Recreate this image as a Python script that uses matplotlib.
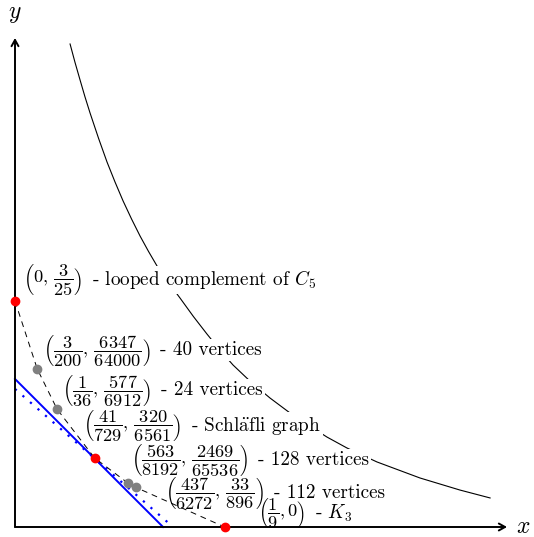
import matplotlib
matplotlib.use('Agg')
import matplotlib.pyplot as plt

plt.rcParams['mathtext.fontset'] = 'cm'
plt.rcParams['font.family'] = ['cmr10', 'DejaVu Serif']
plt.rcParams['axes.unicode_minus'] = False

# plotted positions (axis units)
special_x = [0.0, 0.0422, 0.1111]          # red points
special_y = [0.1198, 0.0366, 0.0]
other_x = [0.0118, 0.0223, 0.0600, 0.0641]  # gray points
other_y = [0.0838, 0.0625, 0.0232, 0.0210]

# dashed chain through all points, left to right
chain_x = [0.0, 0.0118, 0.0223, 0.0422, 0.0600, 0.0641, 0.1111]
chain_y = [0.1198, 0.0838, 0.0625, 0.0366, 0.0232, 0.0210, 0.0]

# two lines through the Schlafli point
solid_x = [0.0, 0.0785]
solid_y = [0.0785, 0.0]
dotted_x = [0.0, 0.0838]
dotted_y = [0.0732, 0.0]

# upper curve
curve_x = [0.0292, 0.0318, 0.0345, 0.0371, 0.0398, 0.0443, 0.0488, 0.0530, 0.0573,
           0.0618, 0.0663, 0.0708, 0.0753, 0.0814, 0.0875, 0.0946, 0.1018, 0.1087,
           0.1156, 0.1254, 0.1352, 0.1479, 0.1654, 0.1760, 0.1919, 0.2147, 0.2359,
           0.2519]
curve_y = [0.2561, 0.2464, 0.2370, 0.2281, 0.2195, 0.2061, 0.1935, 0.1830, 0.1729,
           0.1633, 0.1543, 0.1461, 0.1384, 0.1296, 0.1214, 0.1116, 0.1023, 0.0938,
           0.0859, 0.0766, 0.0684, 0.0589, 0.0477, 0.0419, 0.0345, 0.0260, 0.0196,
           0.0154]

coords = [
    r'$\left(0,\,\dfrac{3}{25}\right)$',
    r'$\left(\dfrac{3}{200},\,\dfrac{6347}{64000}\right)$',
    r'$\left(\dfrac{1}{36},\,\dfrac{577}{6912}\right)$',
    r'$\left(\dfrac{41}{729},\,\dfrac{320}{6561}\right)$',
    r'$\left(\dfrac{563}{8192},\,\dfrac{2469}{65536}\right)$',
    r'$\left(\dfrac{437}{6272},\,\dfrac{33}{896}\right)$',
    r'$\left(\dfrac{1}{9},0\right)$',
]
names = [
    r'looped complement of $C_5$',
    '40 vertices',
    '24 vertices',
    r'Schl$\ddot{\mathrm{a}}$fli graph',
    '128 vertices',
    '112 vertices',
    r'$K_3$',
]
label_pos = [(0.0042, 0.131), (0.0148, 0.0938), (0.0249, 0.0726), (0.0361, 0.0538),
             (0.0615, 0.0356), (0.0795, 0.0181), (0.1288, 0.0072)]

fig = plt.figure(figsize=(5.34, 5.37), dpi=100)
ax = fig.add_axes([0, 0, 1, 1])
ax.set_xlim(-15 / 1886, 519 / 1886)
ax.set_ylim(-10 / 1886, 527 / 1886)
ax.axis('off')

# axes with arrows
arrow = dict(arrowstyle='->,head_length=0.45,head_width=0.25', lw=1.4, color='black',
             shrinkA=0, shrinkB=0)
ax.annotate('', xy=(0.2609, 0), xytext=(0, 0), arrowprops=arrow, zorder=5)
ax.annotate('', xy=(0, 0.2593), xytext=(0, 0), arrowprops=arrow, zorder=5)
ax.text(0.2693, 0, '$x$', fontsize=17, ha='center', va='center')
ax.text(0, 0.272, '$y$', fontsize=17, ha='center', va='center')

ax.plot(curve_x, curve_y, color='black', lw=0.8, zorder=1)
ax.plot(solid_x, solid_y, color='blue', lw=1.4, zorder=4)
ax.plot(dotted_x, dotted_y, color='blue', lw=1.6, ls=(0, (1, 3.5)), zorder=4)
ax.plot(chain_x, chain_y, color='black', lw=0.7, ls=(0, (6, 5)), zorder=4)
ax.plot(other_x, other_y, 'o', color='gray', ms=6, zorder=6)
ax.plot(special_x, special_y, 'o', color='red', ms=6, zorder=7)

for (lx, ly), c, n in zip(label_pos, coords, names):
    t = ax.text(lx, ly, c, fontsize=13.2, ha='left', va='center', zorder=3)
    ax.annotate('- ' + n, xy=(1, 0.5), xycoords=t, xytext=(7, 0),
                textcoords='offset points', fontsize=13.8, ha='left', va='center',
                zorder=3, bbox=dict(facecolor='white', edgecolor='none', pad=1.5))

fig.savefig('out.png', dpi=100)
